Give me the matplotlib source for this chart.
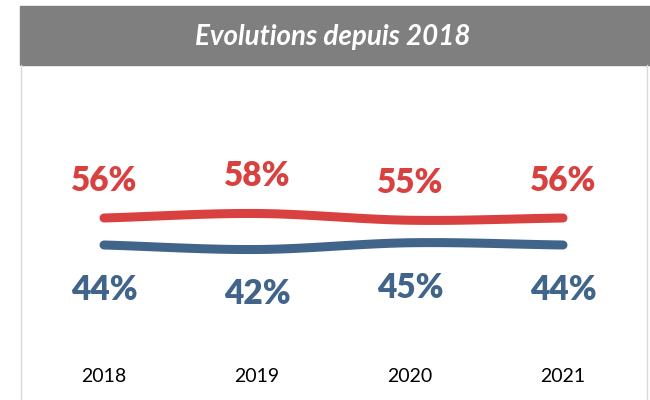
import numpy as np
import matplotlib.pyplot as plt
from matplotlib.patches import Rectangle
from matplotlib.lines import Line2D

annees = ["2018", "2019", "2020", "2021"]
oui = [56, 58, 55, 56]
non = [44, 42, 45, 44]

rouge = "#D94141"
bleu = "#41658A"

plt.rcParams['font.family'] = ['Lato', 'DejaVu Sans']


def lisser(x, y, n=30):
    # courbe lissée façon Excel (Catmull-Rom) passant par chaque point
    x = np.asarray(x, float)
    y = np.asarray(y, float)
    px = np.concatenate([[2 * x[0] - x[1]], x, [2 * x[-1] - x[-2]]])
    py = np.concatenate([[2 * y[0] - y[1]], y, [2 * y[-1] - y[-2]]])
    xs, ys = [], []
    t = np.linspace(0, 1, n)
    for i in range(1, len(px) - 2):
        for p, out in ((px, xs), (py, ys)):
            p0, p1, p2, p3 = p[i - 1], p[i], p[i + 1], p[i + 2]
            out.extend(0.5 * (2 * p1 + (-p0 + p2) * t
                              + (2 * p0 - 5 * p1 + 4 * p2 - p3) * t ** 2
                              + (-p0 + 3 * p1 - 3 * p2 + p3) * t ** 3))
    return xs, ys


fig = plt.figure(figsize=(6.5, 4), dpi=100)
W, H = 650, 400

# bandeau du titre et cadre
fig.patches.append(Rectangle((20 / W, 1 - 65 / H), 630 / W, 59 / H,
                             transform=fig.transFigure, color="#7F7F7F"))
for xp in (21, 647):
    fig.lines.append(Line2D([xp / W, xp / W], [0, 1 - 65 / H],
                            transform=fig.transFigure, color="#D9D9D9", lw=1))
fig.text(333 / W, 1 - 37 / H, "Evolutions depuis 2018", color="white",
         fontsize=20, fontweight="bold", fontstyle="italic",
         ha="center", va="center")

ax = fig.add_axes([21 / W, 56 / H, 626 / W, 225 / H])
x = np.arange(len(annees))
ax.set_xlim(-(104 - 21) / 153, 3 + (647 - 563) / 153)
ax.set_ylim(0, 100)

for serie, couleur, decal in ((oui, rouge, 37), (non, bleu, -45)):
    xs, ys = lisser(x, serie)
    ax.plot(xs, ys, color=couleur, lw=6.5, solid_capstyle="round")
    for xi, v in zip(x, serie):
        ax.annotate(f"{v}%", (xi, v), xytext=(0, decal),
                    textcoords="offset pixels", ha="center", va="center",
                    color=couleur, fontsize=24, fontweight="heavy")

ax.set_xticks(x)
ax.set_xticklabels(annees, fontsize=14)
ax.tick_params(axis="x", length=0, pad=17)
ax.set_yticks([])
for s in ax.spines.values():
    s.set_visible(False)

fig.savefig("out.png", dpi=100)
